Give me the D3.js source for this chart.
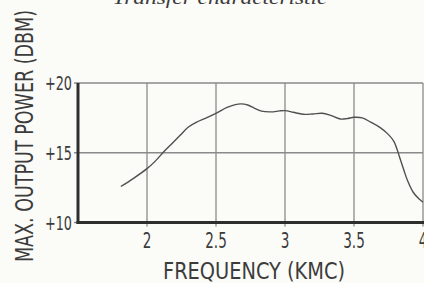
<!DOCTYPE html>
<html>
<head>
<meta charset="utf-8">
<script src="https://cdn.jsdelivr.net/npm/d3@7"></script>
<style>
  html, body { margin: 0; padding: 0; background: #fbfbf8; }
  svg { display: block; }
  text { fill: #3c3c3c; }
</style>
</head>
<body>
<svg id="chart" width="424" height="283"></svg>
<script>
const freq = [1.81, 1.9, 2.0, 2.06, 2.12, 2.18, 2.24, 2.3, 2.36, 2.43, 2.51, 2.58, 2.64, 2.68, 2.73, 2.78, 2.83, 2.9, 2.96, 3.0, 3.06, 3.13, 3.2, 3.27, 3.33, 3.4, 3.45, 3.5, 3.56, 3.62, 3.69, 3.75, 3.79, 3.81, 3.83, 3.86, 3.89, 3.93, 3.97, 4.0];
const power = [12.58, 13.15, 13.86, 14.4, 15.06, 15.65, 16.25, 16.85, 17.2, 17.5, 17.88, 18.25, 18.45, 18.5, 18.42, 18.18, 17.98, 17.93, 18.0, 18.02, 17.9, 17.76, 17.78, 17.83, 17.68, 17.42, 17.45, 17.54, 17.5, 17.2, 16.8, 16.3, 15.8, 15.3, 14.7, 13.8, 12.95, 12.15, 11.7, 11.45];
const xTicks = [2, 2.5, 3, 3.5, 4];
const xTickLabels = ["2", "2.5", "3", "3.5", "4"];
const yTicks = [10, 15, 20];
const yTickLabels = ["+10", "+15", "+20"];

const svg = d3.select("#chart");
const x = d3.scaleLinear().domain([1.5, 4]).range([78, 423]);
const y = d3.scaleLinear().domain([10, 20]).range([222.5, 83]);
const font = "'DejaVu Sans Condensed', 'DejaVu Sans', sans-serif";

// title, mostly cut off at the top
svg.append("text")
    .attr("x", 220)
    .attr("y", 4)
    .attr("text-anchor", "middle")
    .style("font-family", "'Liberation Serif', 'DejaVu Serif', serif")
    .style("font-style", "italic")
    .style("font-size", "19px")
    .attr("textLength", 215)
    .attr("lengthAdjust", "spacingAndGlyphs")
    .text("Transfer characteristic");

// grid
svg.selectAll(".vgrid").data(xTicks).enter().append("line")
    .attr("x1", d => x(d)).attr("x2", d => x(d))
    .attr("y1", y(20)).attr("y2", y(10) + 4)
    .attr("stroke", "#8a8a8a").attr("stroke-width", 1.3);
svg.selectAll(".hgrid").data(yTicks).enter().append("line")
    .attr("x1", x(1.5) - 4).attr("x2", x(4))
    .attr("y1", d => y(d)).attr("y2", d => y(d))
    .attr("stroke", "#8a8a8a").attr("stroke-width", 1.3);

// axes
svg.append("line")
    .attr("x1", x(1.5)).attr("x2", x(1.5))
    .attr("y1", y(20)).attr("y2", y(10) + 1.5)
    .attr("stroke", "#2e2e2e").attr("stroke-width", 3);
svg.append("line")
    .attr("x1", x(1.5) - 1.5).attr("x2", x(4) + 1)
    .attr("y1", y(10)).attr("y2", y(10))
    .attr("stroke", "#2e2e2e").attr("stroke-width", 3.2);

// curve
svg.append("path")
    .datum(d3.zip(freq, power))
    .attr("d", d3.line().x(d => x(d[0])).y(d => y(d[1])).curve(d3.curveCatmullRom))
    .attr("fill", "none")
    .attr("stroke", "#505050")
    .attr("stroke-width", 1.4);

// tick labels, squeezed horizontally like the original lettering
svg.selectAll(".xlab").data(xTicks).enter().append("text")
    .attr("transform", d => "translate(" + x(d) + ",248) scale(0.72,1)")
    .attr("text-anchor", "middle")
    .style("font-family", font)
    .style("font-size", "21px")
    .text((d, i) => xTickLabels[i]);
svg.selectAll(".ylab").data(yTicks).enter().append("text")
    .attr("transform", d => "translate(72," + (y(d) + 7) + ") scale(0.75,1)")
    .attr("text-anchor", "end")
    .style("font-family", font)
    .style("font-size", "19px")
    .text((d, i) => yTickLabels[i]);

// axis titles
svg.append("text")
    .attr("x", 254)
    .attr("y", 279)
    .attr("text-anchor", "middle")
    .style("font-family", font)
    .style("font-size", "23px")
    .attr("textLength", 182)
    .attr("lengthAdjust", "spacingAndGlyphs")
    .text("FREQUENCY (KMC)");
svg.append("text")
    .attr("transform", "translate(33,136) rotate(-90)")
    .attr("text-anchor", "middle")
    .style("font-family", font)
    .style("font-size", "24px")
    .attr("textLength", 252)
    .attr("lengthAdjust", "spacingAndGlyphs")
    .text("MAX. OUTPUT POWER (DBM)");
</script>
</body>
</html>
